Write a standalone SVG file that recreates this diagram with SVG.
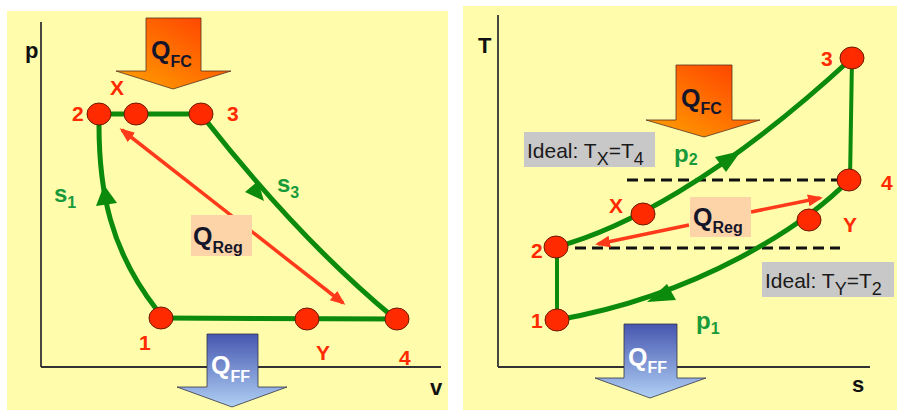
<svg xmlns="http://www.w3.org/2000/svg" width="897" height="410" viewBox="0 0 897 410">
<style>
.panel{fill:#fffcab}
.axis{stroke:#333;stroke-width:1.8;fill:none}
.cyc{stroke:#0b8a0b;stroke-width:5;fill:none;stroke-linecap:round}
.cyc4{stroke:#0b8a0b;stroke-width:4;fill:none}
.head{fill:#0b8a0b}
.dash{stroke:#111;stroke-width:3;stroke-dasharray:11 6;fill:none}
.red{stroke:#ff3a1a;stroke-width:3.5;fill:none}
.pt{fill:#ff2a00;stroke:#6a1a00;stroke-width:1}
.lbl{font-family:"Liberation Sans",Arial,sans-serif;font-weight:bold;font-size:21px;fill:#ff2a00}
.ax{font-family:"Liberation Sans",Arial,sans-serif;font-weight:bold;font-size:22px;fill:#111}
.gl{font-family:"Liberation Sans",Arial,sans-serif;font-weight:bold;font-size:24px;fill:#199a3a}
.gs{font-size:16px}
.q{font-family:"Liberation Sans",Arial,sans-serif;font-weight:bold;font-size:25px;fill:#15152a}
.qw{fill:#ffffff}
.qs{font-size:16px}
.reg{fill:#fdd3a8}
.ideal{fill:#c8c8c8}
.it{font-family:"Liberation Sans",Arial,sans-serif;font-size:21px;fill:#1a1a1a}
.its{font-size:18px}
.fc{stroke:#553322;stroke-width:0.8;fill:url(#gOr)}
.ff{stroke:#334;stroke-width:0.8;fill:url(#gBl)}
</style>
<defs>
<linearGradient id="gOr" x1="0" y1="1" x2="1" y2="0">
<stop offset="0" stop-color="#ffa400"/>
<stop offset="1" stop-color="#ff3a00"/>
</linearGradient>
<linearGradient id="gBl" x1="0" y1="0" x2="0" y2="1">
<stop offset="0" stop-color="#4656b0"/>
<stop offset="1" stop-color="#b0d0f4"/>
</linearGradient>
<marker id="rh" markerUnits="userSpaceOnUse" markerWidth="16" markerHeight="14" refX="12" refY="6" orient="auto-start-reverse">
<path d="M0,0 L15,6 L0,12 z" fill="#ff3a1a"/>
</marker>
</defs>

<rect class="panel" x="7" y="11" width="441" height="399"/>
<rect class="panel" x="463" y="6" width="434" height="404"/>

<!-- left p-v diagram -->
<g id="pv-axes">
<line class="axis" x1="41" y1="22" x2="41" y2="367"/>
<line class="axis" x1="41" y1="367" x2="441" y2="367" stroke="#555"/>
<text class="ax" x="25" y="58">p</text>
<text class="ax" x="430" y="395">v</text>
</g>

<g id="pv-connectors">
<line class="cyc" x1="99" y1="114" x2="201" y2="114"/>
<path class="cyc" d="M204 118 Q300 240 393 317"/>
<line class="cyc" x1="161" y1="318" x2="397" y2="319"/>
<path class="cyc" d="M157 310 C110 250 99 190 99 125"/>
<polygon class="head" points="264,201 258,181 245,192"/>
<polygon class="head" points="104,185 117,203 96,206"/>
<line class="red" x1="122" y1="130" x2="343" y2="303" marker-start="url(#rh)" marker-end="url(#rh)"/>
</g>

<g id="pv-QFC">
<polygon class="fc" points="146,18 201,18 201,71 231,71 173,89 116,71 146,71"/>
<text class="q" x="151" y="59">Q<tspan class="qs" dy="8">FC</tspan></text>
</g>
<g id="pv-QFF">
<polygon class="ff" points="207,334 258,334 258,387 287,387 232,407 177,387 207,387"/>
<text class="q qw" x="211" y="374">Q<tspan class="qs" dy="8">FF</tspan></text>
</g>
<g id="pv-QReg">
<rect class="reg" x="191" y="215" width="61" height="41"/>
<text class="q" x="193" y="245">Q<tspan class="qs" font-size="17" dy="8">Reg</tspan></text>
</g>
<g id="pv-s1"><text class="gl" x="54" y="202">s<tspan class="gs" dy="6">1</tspan></text></g>
<g id="pv-s3"><text class="gl" x="277" y="192">s<tspan class="gs" dy="6">3</tspan></text></g>

<g id="pv-2"><ellipse class="pt" cx="99" cy="114" rx="12" ry="11"/><text class="lbl" x="72" y="121">2</text></g>
<g id="pv-X"><ellipse class="pt" cx="136" cy="114" rx="12" ry="11"/><text class="lbl" x="110" y="95">X</text></g>
<g id="pv-3"><ellipse class="pt" cx="201" cy="114" rx="12" ry="11"/><text class="lbl" x="227" y="121">3</text></g>
<g id="pv-1"><ellipse class="pt" cx="161" cy="318" rx="12" ry="11"/><text class="lbl" x="139" y="350">1</text></g>
<g id="pv-Y"><ellipse class="pt" cx="307" cy="319" rx="12" ry="11"/><text class="lbl" x="316" y="360">Y</text></g>
<g id="pv-4"><ellipse class="pt" cx="397" cy="319" rx="12" ry="11"/><text class="lbl" x="399" y="365">4</text></g>

<!-- right T-s diagram -->
<g id="ts-axes">
<line class="axis" x1="498" y1="15" x2="498" y2="367"/>
<line class="axis" x1="498" y1="367" x2="870" y2="367"/>
<text class="ax" x="478" y="53">T</text>
<text class="ax" x="852" y="392">s</text>
</g>

<g id="ts-connectors">
<line class="dash" x1="627" y1="180" x2="840" y2="180"/>
<line class="dash" x1="575" y1="248" x2="840" y2="248"/>
<line class="cyc4" x1="557" y1="247" x2="557" y2="320"/>
<line class="cyc4" x1="852" y1="58" x2="850" y2="180"/>
<path class="cyc" d="M556 247 C620 230 720 180 852 58"/>
<path class="cyc" d="M849 180 C805 225 700 295 557 320"/>
<polygon class="head" points="741,151 715,157 726,172"/>
<polygon class="head" points="647,302 667,284 676,300"/>
<line class="red" x1="689" y1="225" x2="598" y2="244" marker-end="url(#rh)"/>
<line class="red" x1="751" y1="212" x2="820" y2="198" marker-end="url(#rh)"/>
</g>

<g id="ts-QFC">
<polygon class="fc" points="676,65 732,65 732,120 760,120 704,137 646,120 676,120"/>
<text class="q" x="681" y="107">Q<tspan class="qs" dy="7">FC</tspan></text>
</g>
<g id="ts-QFF">
<polygon class="ff" points="624,324 677,324 677,378 706,378 650,398 595,378 624,378"/>
<text class="q qw" x="628" y="366">Q<tspan class="qs" dy="7">FF</tspan></text>
</g>
<g id="ts-QReg">
<rect class="reg" x="690" y="197" width="61" height="40"/>
<text class="q" x="693" y="226">Q<tspan class="qs" font-size="17" dy="7">Reg</tspan></text>
</g>
<g id="ts-idealX">
<rect class="ideal" x="524" y="132" width="131" height="35"/>
<text class="it" x="527" y="158">Ideal: T<tspan class="its" dy="7">X</tspan><tspan dy="-7">=T</tspan><tspan class="its" dy="7">4</tspan></text>
</g>
<g id="ts-idealY">
<rect class="ideal" x="762" y="262" width="132" height="35"/>
<text class="it" x="765" y="288">Ideal: T<tspan class="its" dy="7">Y</tspan><tspan dy="-7">=T</tspan><tspan class="its" dy="7">2</tspan></text>
</g>
<g id="ts-p2"><text class="gl" x="674" y="162">p<tspan class="gs" dy="3">2</tspan></text></g>
<g id="ts-p1"><text class="gl" x="696" y="329">p<tspan class="gs" dy="5">1</tspan></text></g>

<g id="ts-3"><ellipse class="pt" cx="852" cy="58" rx="12" ry="11"/><text class="lbl" x="821" y="66">3</text></g>
<g id="ts-4"><ellipse class="pt" cx="849" cy="180" rx="12" ry="11"/><text class="lbl" x="881" y="190">4</text></g>
<g id="ts-X"><ellipse class="pt" cx="643" cy="214" rx="12" ry="11"/><text class="lbl" x="609" y="213">X</text></g>
<g id="ts-Y"><ellipse class="pt" cx="809" cy="220" rx="12" ry="11"/><text class="lbl" x="843" y="232">Y</text></g>
<g id="ts-2"><ellipse class="pt" cx="556" cy="247" rx="12" ry="11"/><text class="lbl" x="531" y="258">2</text></g>
<g id="ts-1"><ellipse class="pt" cx="557" cy="320" rx="12" ry="11"/><text class="lbl" x="531" y="328">1</text></g>
</svg>
